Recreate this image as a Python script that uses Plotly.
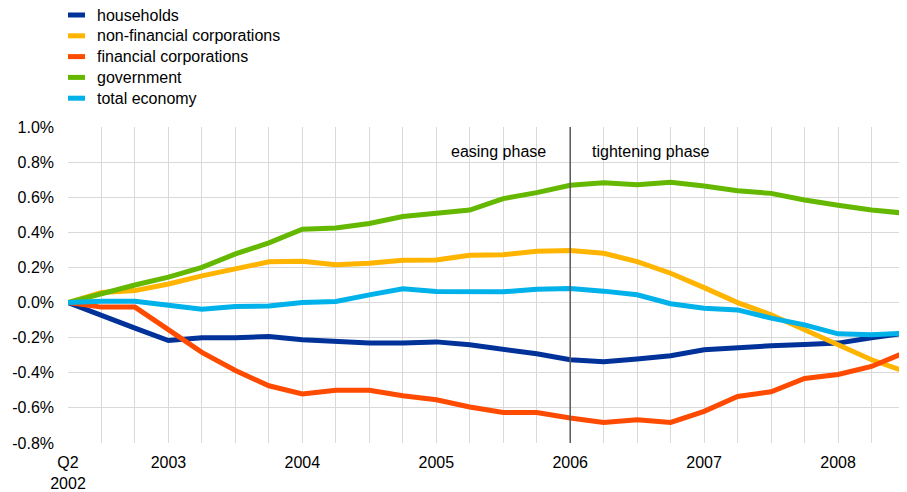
import plotly.graph_objects as go

QUARTERS = [
    "2002Q2", "2002Q3", "2002Q4",
    "2003Q1", "2003Q2", "2003Q3", "2003Q4",
    "2004Q1", "2004Q2", "2004Q3", "2004Q4",
    "2005Q1", "2005Q2", "2005Q3", "2005Q4",
    "2006Q1", "2006Q2", "2006Q3", "2006Q4",
    "2007Q1", "2007Q2", "2007Q3", "2007Q4",
    "2008Q1", "2008Q2", "2008Q3",
]
X_LABELS = {
    "2002Q2": "Q2<br>2002",
    "2003Q1": "2003",
    "2004Q1": "2004",
    "2005Q1": "2005",
    "2006Q1": "2006",
    "2007Q1": "2007",
    "2008Q1": "2008",
}

households = [0.0, -0.076, -0.146, -0.216, -0.201, -0.201, -0.193, -0.212, -0.224, -0.231,
              -0.231, -0.224, -0.241, -0.263, -0.292, -0.326, -0.337, -0.322, -0.303, -0.269,
              -0.254, -0.246, -0.239, -0.231, -0.201, -0.174]
non_financial = [0.0, 0.057, 0.068, 0.106, 0.152, 0.19, 0.232, 0.235, 0.216, 0.224,
                 0.241, 0.243, 0.27, 0.273, 0.292, 0.296, 0.281, 0.233, 0.167, 0.085,
                 0.0, -0.07, -0.155, -0.246, -0.326, -0.393]
financial = [0.0, -0.026, -0.026, -0.155, -0.284, -0.387, -0.474, -0.521, -0.5, -0.5,
             -0.531, -0.554, -0.595, -0.626, -0.626, -0.658, -0.683, -0.667, -0.683, -0.62,
             -0.535, -0.508, -0.432, -0.41, -0.364, -0.284]
government = [0.0, 0.053, 0.1, 0.145, 0.2, 0.277, 0.34, 0.418, 0.425, 0.45,
              0.49, 0.509, 0.527, 0.592, 0.626, 0.668, 0.683, 0.671, 0.685, 0.664,
              0.637, 0.622, 0.584, 0.554, 0.527, 0.509]
total_economy = [0.0, 0.008, 0.008, -0.013, -0.038, -0.023, -0.019, 0.0, 0.006, 0.044,
                 0.078, 0.063, 0.063, 0.061, 0.076, 0.08, 0.065, 0.044, -0.007, -0.032,
                 -0.042, -0.089, -0.127, -0.178, -0.184, -0.174]

Y_TICKS = [-0.8, -0.6, -0.4, -0.2, 0.0, 0.2, 0.4, 0.6, 0.8, 1.0]
Y_LABELS = ["-0.8%", "-0.6%", "-0.4%", "-0.2%", "0.0%", "0.2%", "0.4%", "0.6%", "0.8%", "1.0%"]

SERIES = [
    ("households", households, "#003299"),
    ("non-financial corporations", non_financial, "#ffb400"),
    ("financial corporations", financial, "#ff4b00"),
    ("government", government, "#65b800"),
    ("total economy", total_economy, "#00b1ea"),
]

FONT = "Arial, Liberation Sans, sans-serif"

# the page body adds an 8px offset, so the figure is 8px smaller than the window
WIDTH, HEIGHT = 899, 484
MARGIN = {"l": 60, "r": 2, "t": 119, "b": 49}
PLOT_W = WIDTH - MARGIN["l"] - MARGIN["r"]
PLOT_H = HEIGHT - MARGIN["t"] - MARGIN["b"]


def px_to_paper(x_px, y_px):
    return (x_px - MARGIN["l"]) / PLOT_W, (HEIGHT - MARGIN["b"] - y_px) / PLOT_H


fig = go.Figure()
for name, values, color in SERIES:
    fig.add_trace(
        go.Scatter(
            x=QUARTERS,
            y=values,
            name=name,
            mode="lines",
            line={"color": color, "width": 5},
            showlegend=False,
        )
    )

# compact legend drawn by hand (plotly's rows are too tall)
for i, (name, _, color) in enumerate(SERIES):
    row_y = 7 + 20.8 * i
    x0, y = px_to_paper(60, row_y)
    x1, _ = px_to_paper(77, row_y)
    xt, _ = px_to_paper(87.5, row_y)
    fig.add_shape(
        type="line", xref="paper", yref="paper",
        x0=x0, x1=x1, y0=y, y1=y,
        line={"color": color, "width": 5},
    )
    fig.add_annotation(
        x=xt, y=y, xref="paper", yref="paper", text=name,
        showarrow=False, xanchor="left", yanchor="middle", borderpad=0,
        font={"size": 16, "color": "#000000"},
    )

# policy turning point
fig.add_shape(
    type="line",
    x0="2006Q1", x1="2006Q1",
    y0=0, y1=1,
    xref="x", yref="paper",
    line={"color": "#595959", "width": 1.5},
)
fig.add_annotation(
    x="2006Q1", y=0.86, text="easing phase",
    showarrow=False, xanchor="right", xshift=-22,
    font={"size": 16, "color": "#000000"},
)
fig.add_annotation(
    x="2006Q1", y=0.86, text="tightening phase",
    showarrow=False, xanchor="left", xshift=20,
    font={"size": 16, "color": "#000000"},
)

fig.update_layout(
    width=WIDTH,
    height=HEIGHT,
    margin={**MARGIN, "autoexpand": False},
    paper_bgcolor="#ffffff",
    plot_bgcolor="#ffffff",
    font={"family": FONT, "size": 16, "color": "#000000"},
    showlegend=False,
    xaxis={
        "type": "category",
        "range": [0, len(QUARTERS) - 1],
        "tickvals": QUARTERS,
        "ticktext": [X_LABELS.get(q, "") for q in QUARTERS],
        "tickangle": 0,
        "showgrid": True,
        "gridcolor": "#d9d9d9",
        "gridwidth": 1,
        "zeroline": False,
        "showline": False,
        "ticks": "",
        "ticklabelstandoff": 8,
    },
    yaxis={
        "range": [-0.8, 1.0],
        "tickvals": Y_TICKS,
        "ticktext": Y_LABELS,
        "showgrid": True,
        "gridcolor": "#d9d9d9",
        "gridwidth": 1,
        "zeroline": False,
        "showline": False,
        "ticks": "",
        "ticklabelstandoff": 13,
    },
)

fig.write_html("out.html")
